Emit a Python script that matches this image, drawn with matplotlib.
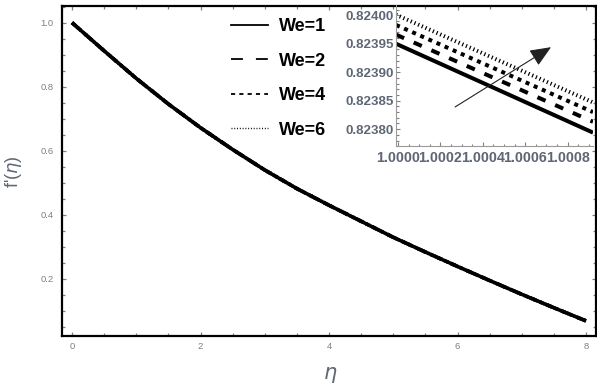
import matplotlib

matplotlib.use("Agg")
import matplotlib.pyplot as plt
from matplotlib.lines import Line2D
from matplotlib.ticker import MultipleLocator, FormatStrFormatter

plt.rcParams["font.family"] = ["Liberation Sans", "DejaVu Sans"]
plt.rcParams["mathtext.fontset"] = "dejavusans"

# main panel: f'(eta), all We curves coincide at this scale
eta = [0, 0.5, 1, 1.5, 2, 2.5, 3, 3.5, 4, 4.5, 5, 5.5, 6, 6.5, 7, 7.5, 8]
f_main = [1.000, 0.912, 0.826, 0.746, 0.672, 0.604, 0.540, 0.482, 0.430,
          0.380, 0.330, 0.284, 0.239, 0.195, 0.152, 0.110, 0.069]

# zoomed inset near eta = 1
labels = ["We=1", "We=2", "We=4", "We=6"]
eta_zoom = [0.99999, 1.00092]
f_we1 = [0.823950, 0.823794]
f_we2 = [0.823966, 0.823813]
f_we4 = [0.823983, 0.823830]
f_we6 = [0.824001, 0.823847]
arrow_tail = (1.000269, 0.823839)
arrow_tip = (1.000722, 0.823944)

TICK = "#808080"
LABEL = "#5f6775"

styles = [
    dict(ls="-"),
    dict(ls=(0, (2.2, 2.6))),
    dict(ls=(0, (1.0, 1.2))),
    dict(ls=(0, (0.3, 0.7))),
]

fig = plt.figure(figsize=(5.97, 3.87), dpi=100)
ax = fig.add_axes([0.1034, 0.131, 0.8944, 0.8535])

for lab, st in list(zip(labels, styles))[::-1]:
    ax.plot(eta, f_main, color="black", lw=2.6, solid_capstyle="butt",
            dash_capstyle="butt", **st)

ax.set_xlim(-0.16, 8.15)
ax.set_ylim(0.021, 1.052)
ax.xaxis.set_major_locator(MultipleLocator(2))
ax.xaxis.set_minor_locator(MultipleLocator(0.5))
ax.yaxis.set_major_locator(MultipleLocator(0.2))
ax.yaxis.set_minor_locator(MultipleLocator(0.05))
ax.yaxis.set_major_formatter(FormatStrFormatter("%.1f"))
ax.tick_params(which="both", direction="in", top=True, right=True,
               color=TICK, labelcolor=TICK, labelsize=6.8)
ax.tick_params(which="major", length=3, width=0.9)
ax.tick_params(which="minor", length=2, width=0.9)
ax.tick_params(axis="y", pad=6)
ax.tick_params(axis="x", pad=4)
for s in ax.spines.values():
    s.set_linewidth(1.6)
    s.set_color("black")

ax.set_ylabel(r"f'($\eta$)", fontsize=13, color=LABEL)
ax.yaxis.set_label_coords(-0.0706, 0.5)
ax.set_xlabel(r"$\eta$", fontsize=15, color=LABEL)
ax.xaxis.set_label_coords(0.502, -0.117)
ax.xaxis.label.set_va("center")

handles = [
    Line2D([], [], color="black", lw=1.3, ls="-"),
    Line2D([], [], color="black", lw=1.3, ls=(0, (6.6, 7.2))),
    Line2D([], [], color="black", lw=1.3, ls=(0, (2.3, 2.3))),
    Line2D([], [], color="black", lw=1.0, ls=(0, (0.7, 1.3))),
]
ax.legend(handles, labels, loc="upper left", frameon=False,
          bbox_to_anchor=(231 / 597, 1 - 18 / 387), bbox_transform=fig.transFigure,
          prop=dict(size=13, weight="bold"), handlelength=2.05,
          handletextpad=0.61, labelspacing=0.97, borderpad=0, borderaxespad=0)

# inset
ins = fig.add_axes([396 / 597, 1 - 145.7 / 387, 197 / 597, 140.7 / 387])
ins.patch.set_alpha(0)
for ys, st in zip([f_we1, f_we2, f_we4, f_we6], styles):
    ins.plot(eta_zoom, ys, color="black", lw=2.9, solid_capstyle="butt",
             dash_capstyle="butt", **st)
ins.annotate("", xy=arrow_tip, xytext=arrow_tail,
             arrowprops=dict(arrowstyle="-|>,head_length=1.3,head_width=0.55",
                             color="#222222", lw=0.8, mutation_scale=10,
                             shrinkA=0, shrinkB=0))
ins.set_xlim(eta_zoom)
ins.set_ylim(0.823771, 0.824018)
ins.xaxis.set_major_locator(MultipleLocator(0.0002))
ins.xaxis.set_minor_locator(MultipleLocator(0.00005))
ins.yaxis.set_major_locator(MultipleLocator(0.00005))
ins.yaxis.set_minor_locator(MultipleLocator(0.00001))
ins.xaxis.set_major_formatter(FormatStrFormatter("%.4f"))
ins.yaxis.set_major_formatter(FormatStrFormatter("%.5f"))
ins.tick_params(which="both", direction="in", color=TICK, labelcolor=LABEL,
                labelsize=9.6, width=0.8)
ins.tick_params(axis="x", labelsize=10.3)
ins.tick_params(which="major", length=3)
ins.tick_params(which="minor", length=1.8)
ins.tick_params(axis="y", pad=1.5)
ins.tick_params(axis="x", pad=3.5)
for lab in ins.get_xticklabels() + ins.get_yticklabels():
    lab.set_fontweight("bold")
ins.spines["top"].set_visible(False)
ins.spines["right"].set_visible(False)
ins.spines["left"].set_color("#9a9a9a")
ins.spines["bottom"].set_color("#9a9a9a")
ins.spines["left"].set_linewidth(0.8)
ins.spines["bottom"].set_linewidth(0.8)

fig.savefig("out.png", dpi=100, facecolor="white")
